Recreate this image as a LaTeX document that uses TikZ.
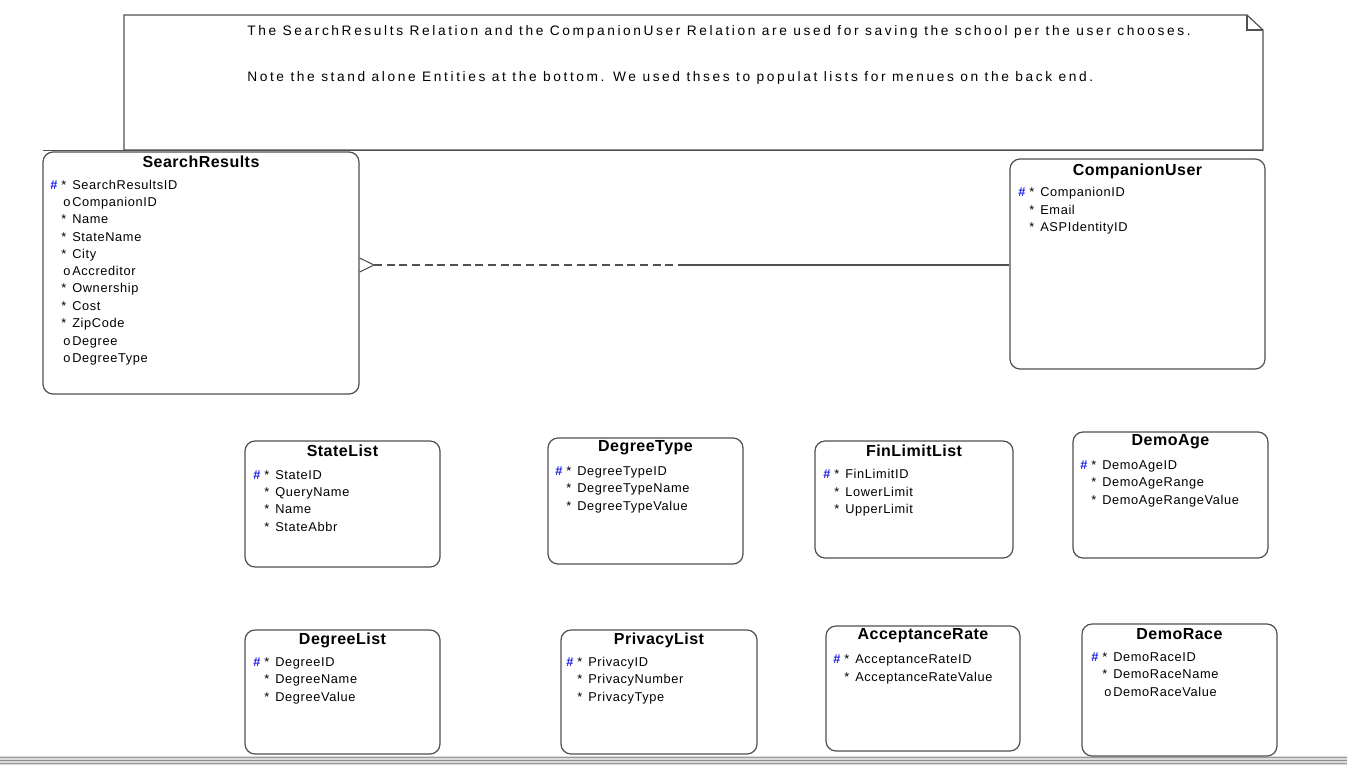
\documentclass[tikz,border=0pt]{standalone}
\usepackage{fontspec}
\setmainfont{Liberation Sans}
\usetikzlibrary{fit}
\definecolor{edge}{HTML}{505050}
\definecolor{pkblue}{HTML}{1A1AE6}
\tikzset{
  entbox/.style={draw=edge, line width=0.9pt, rounded corners=7.5pt, inner sep=0pt, fill=white},
  ttl/.style={font=\fontsize{12}{14}\selectfont\bfseries\addfontfeature{LetterSpace=3}, inner sep=0pt, anchor=center},
  attr/.style={font=\fontsize{9.6}{11}\selectfont\addfontfeature{LetterSpace=5}, inner sep=0pt, anchor=base west},
  pk/.style={font=\fontsize{9.6}{11}\selectfont\bfseries, text=pkblue, inner sep=0pt, anchor=base west},
  notetxt/.style={font=\fontsize{10.3}{12}\selectfont\addfontfeature{LetterSpace=19}, inner sep=0pt, anchor=base west},
  conn/.style={draw=edge, line width=0.8pt},
}
% \ent{name}{x1}{y1}{x2}{y2}{title}{title y}
\newcommand{\ent}[7]{%
  \node[entbox, fit={(#2,#3) (#4,#5)}] (#1) {};
  \node[ttl] (#1-t) at ({(#2+#4)/2},#7) {#6};
}
% rows: {id}{name x}{y}{text}
\newcommand{\rowpk}[4]{\node[pk] (#1-h) at (#2-22,#3+4) {\#}; \node[attr] (#1-p) at (#2-11,#3+4) {*}; \node[attr] (#1) at (#2,#3+4) {#4};}
\newcommand{\rowst}[4]{\node[attr] (#1-p) at (#2-11,#3+4) {*}; \node[attr] (#1) at (#2,#3+4) {#4};}
\newcommand{\rowop}[4]{\node[attr] (#1-p) at (#2-9,#3+4) {o}; \node[attr] (#1) at (#2,#3+4) {#4};}
\begin{document}
\begin{tikzpicture}[x=0.75pt,y=-0.75pt]
\useasboundingbox (0,0) rectangle (1347,765);
% bottom window band
\fill[black!14] (0,756) rectangle (1347,765);
\draw[black!40, line width=0.6pt] (0,757) -- (1347,757);
\draw[black!45, line width=0.6pt] (0,760.5) -- (1347,760.5);
\draw[black!40, line width=0.6pt] (0,763.5) -- (1347,763.5);
% note
\coordinate (n1) at (124,15);
\coordinate (n2) at (1247,15);
\coordinate (n3) at (1263,30);
\coordinate (n4) at (1263,150);
\coordinate (n5) at (124,150);
\draw[edge, line width=0.9pt, fill=white] (n1) -- (n2) -- (n3) -- (n4) -- (n5) -- cycle;
\draw[edge, line width=0.9pt] (n2) -- (1247,30) -- (n3);
\draw[edge, line width=1.4pt] (43,150.5) -- (1263,150.5);
\node[notetxt] (note1) at (247,35) {The SearchResults Relation and the CompanionUser Relation are used for saving the school per the user chooses.};
\node[notetxt] (note2) at (247,81) {Note the stand alone Entities at the bottom. We used thses to populat lists for menues on the back end.};
% SearchResults
\ent{sr}{43}{152}{359}{394}{SearchResults}{162}
\rowpk{sr1}{72}{185}{SearchResultsID}
\rowop{sr2}{72}{202}{CompanionID}
\rowst{sr3}{72}{219}{Name}
\rowst{sr4}{72}{237}{StateName}
\rowst{sr5}{72}{254}{City}
\rowop{sr6}{72}{271}{Accreditor}
\rowst{sr7}{72}{288}{Ownership}
\rowst{sr8}{72}{306}{Cost}
\rowst{sr9}{72}{323}{ZipCode}
\rowop{sr10}{72}{341}{Degree}
\rowop{sr11}{72}{358}{DegreeType}
% CompanionUser
\ent{cu}{1010}{159}{1265}{369}{CompanionUser}{171}
\rowpk{cu1}{1040}{192}{CompanionID}
\rowst{cu2}{1040}{210}{Email}
\rowst{cu3}{1040}{227}{ASPIdentityID}
% relationship
\coordinate (tip) at (374,265);
\coordinate (mid) at (682,265);
\draw[conn] (sr.east |- 0,258) -- (tip) -- (sr.east |- 0,272);
\draw[conn, dash pattern=on 6pt off 3.5pt] (tip) -- (mid);
\draw[conn] (mid) -- (mid -| cu.west);
% StateList
\ent{sl}{245}{441}{440}{567}{StateList}{451}
\rowpk{sl1}{275}{475}{StateID}
\rowst{sl2}{275}{492}{QueryName}
\rowst{sl3}{275}{509}{Name}
\rowst{sl4}{275}{527}{StateAbbr}
% DegreeType
\ent{dt}{548}{438}{743}{564}{DegreeType}{448}
\rowpk{dt1}{577}{471}{DegreeTypeID}
\rowst{dt2}{577}{488}{DegreeTypeName}
\rowst{dt3}{577}{506}{DegreeTypeValue}
% FinLimitList
\ent{fl}{815}{441}{1013}{558}{FinLimitList}{451}
\rowpk{fl1}{845}{474}{FinLimitID}
\rowst{fl2}{845}{492}{LowerLimit}
\rowst{fl3}{845}{509}{UpperLimit}
% DemoAge
\ent{da}{1073}{432}{1268}{558}{DemoAge}{442}
\rowpk{da1}{1102}{465}{DemoAgeID}
\rowst{da2}{1102}{482}{DemoAgeRange}
\rowst{da3}{1102}{500}{DemoAgeRangeValue}
% DegreeList
\ent{dl}{245}{630}{440}{754}{DegreeList}{640}
\rowpk{dl1}{275}{662}{DegreeID}
\rowst{dl2}{275}{679}{DegreeName}
\rowst{dl3}{275}{697}{DegreeValue}
% PrivacyList
\ent{pl}{561}{630}{757}{754}{PrivacyList}{640}
\rowpk{pl1}{588}{662}{PrivacyID}
\rowst{pl2}{588}{679}{PrivacyNumber}
\rowst{pl3}{588}{697}{PrivacyType}
% AcceptanceRate
\ent{ar}{826}{626}{1020}{751}{AcceptanceRate}{636}
\rowpk{ar1}{855}{659}{AcceptanceRateID}
\rowst{ar2}{855}{677}{AcceptanceRateValue}
% DemoRace
\ent{dr}{1082}{624}{1277}{756}{DemoRace}{634}
\rowpk{dr1}{1113}{657}{DemoRaceID}
\rowst{dr2}{1113}{674}{DemoRaceName}
\rowop{dr3}{1113}{692}{DemoRaceValue}
\end{tikzpicture}
\end{document}
